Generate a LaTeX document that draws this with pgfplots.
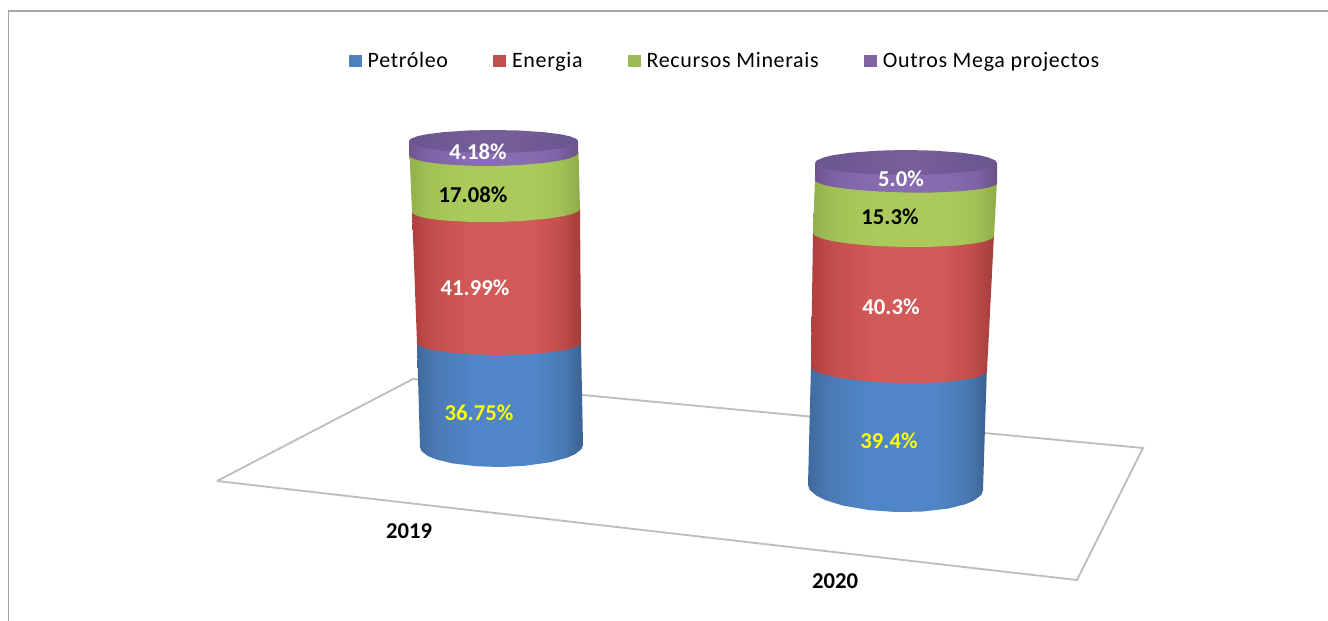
\documentclass[border=0pt]{standalone}
\usepackage{fontspec}
\setmainfont{Carlito}
\newfontfamily\legfont[LetterSpace=3]{Carlito}
\usepackage{pgfplots}
\pgfplotsset{compat=1.18}
\definecolor{frameg}{HTML}{A6A6A6}
\definecolor{floorg}{HTML}{BEBEBE}
\definecolor{blueL}{HTML}{4F81BD}
\definecolor{redL}{HTML}{C0504D}
\definecolor{greenL}{HTML}{9BBB59}
\definecolor{purpL}{HTML}{8064A2}
\definecolor{labyel}{HTML}{FFFF00}
\definecolor{blueE}{HTML}{3F6A9F}
\definecolor{blueS}{HTML}{4A7AB4}
\definecolor{blueM}{HTML}{5086C8}
\definecolor{blueD}{HTML}{3A6290}
\definecolor{redE}{HTML}{AE403E}
\definecolor{redS}{HTML}{C24E4C}
\definecolor{redM}{HTML}{D25A58}
\definecolor{redD}{HTML}{A23C3A}
\definecolor{greenE}{HTML}{93B04C}
\definecolor{greenS}{HTML}{A2C256}
\definecolor{greenM}{HTML}{AACB5C}
\definecolor{greenD}{HTML}{8FAB4A}
\definecolor{purpE}{HTML}{6F5590}
\definecolor{purpS}{HTML}{7E64A6}
\definecolor{purpM}{HTML}{886CB0}
\definecolor{purpD}{HTML}{6A5288}
\definecolor{lidE}{HTML}{6A5590}
\definecolor{lidM}{HTML}{775F9A}
% path box maps onto 25bp..75bp of a shading
\pgfdeclarehorizontalshading{cylB}{100bp}{color(0bp)=(blueE); color(25bp)=(blueE); color(31bp)=(blueS); color(42bp)=(blueM); color(60bp)=(blueM); color(69bp)=(blueS); color(75bp)=(blueD); color(100bp)=(blueD)}
\pgfdeclarehorizontalshading{cylR}{100bp}{color(0bp)=(redE); color(25bp)=(redE); color(31bp)=(redS); color(42bp)=(redM); color(60bp)=(redM); color(69bp)=(redS); color(75bp)=(redD); color(100bp)=(redD)}
\pgfdeclarehorizontalshading{cylG}{100bp}{color(0bp)=(greenE); color(25bp)=(greenE); color(31bp)=(greenS); color(42bp)=(greenM); color(60bp)=(greenM); color(69bp)=(greenS); color(75bp)=(greenD); color(100bp)=(greenD)}
\pgfdeclarehorizontalshading{cylP}{100bp}{color(0bp)=(purpE); color(25bp)=(purpE); color(31bp)=(purpS); color(42bp)=(purpM); color(60bp)=(purpM); color(69bp)=(purpS); color(75bp)=(purpD); color(100bp)=(purpD)}
\tikzset{
  cylblue/.style={draw=none, shade, shading=cylB},
  cylred/.style={draw=none, shade, shading=cylR},
  cylgreen/.style={draw=none, shade, shading=cylG},
  cylpurp/.style={draw=none, shade, shading=cylP},
  cyllid/.style={draw=none, left color=lidE, right color=lidE, middle color=lidM},
  val/.style={font=\bfseries\fontsize{17}{19}\selectfont, inner sep=0pt},
  swatch/.style={draw=none, fill=#1},
}
\pgfplotsset{
  legsq/.style={legend image code/.code={\path[##1] (0pt,-4.5pt) rectangle (9.75pt,4.5pt);}},
}
\begin{document}
\begin{tikzpicture}
\path[use as bounding box] (0,0) rectangle (996pt,465.75pt);
\begin{axis}[
    at={(0,0)}, anchor=south west,
    scale only axis, width=996pt, height=465.75pt,
    xmin=0, xmax=1328, ymin=0, ymax=621, y dir=reverse,
    hide axis,
    legend columns=4,
    legend cell align=left,
    legend style={
        at={(axis cs:349,61)}, anchor=west, draw=none, fill=none,
        inner sep=0pt, outer sep=0pt,
        font=\legfont\fontsize{16.5}{19}\selectfont,
        /tikz/every even column/.append style={column sep=32pt},
        /tikz/every odd column/.append style={column sep=2.3pt},
    },
]
% legend swatches
\addlegendimage{legsq, swatch=blueL}
\addlegendentry{Petróleo}
\addlegendimage{legsq, swatch=redL}
\addlegendentry{Energia}
\addlegendimage{legsq, swatch=greenL}
\addlegendentry{Recursos Minerais}
\addlegendimage{legsq, swatch=purpL}
\addlegendentry{Outros Mega projectos}

% chart frame, cropped at right and bottom
\addplot[frameg, line width=1.1pt, forget plot] coordinates {(8.5,621) (8.5,11) (1328,11)};
% floor
\addplot[floorg, line width=1.4pt, forget plot] coordinates {(217,481) (413,379) (1143,448) (1077,580) (217,481)};

% 2019 column, bottom to top
\addplot[cylblue, forget plot] coordinates {(417,342) (420,447) (421.6,451.2) (428,456.1) (436.3,459.4) (452.6,463.4) (477,466.3) (501.5,467) (526,465.7) (550.4,462.2) (566.7,457.8) (574.9,454.3) (581.4,449.2) (583,445) (581,342)} -- cycle;
\addplot[cylred, forget plot] coordinates {(412,210) (417,343) (418.6,345.4) (425.2,348.2) (433.4,350.2) (449.8,352.6) (474.4,354.4) (499,355) (523.6,354.4) (548.2,352.6) (564.6,350.2) (572.8,348.2) (579.4,345.4) (581,343) (580,208)} -- cycle;
\addplot[cylgreen, forget plot] coordinates {(409.5,153) (412,212) (413.7,214.3) (420.4,216.9) (428.8,218.6) (445.6,220.6) (470.8,221.9) (496,222) (521.2,221) (546.4,218.8) (563.2,216.2) (571.6,214.2) (578.3,211.3) (580,209) (578.5,152)} -- cycle;
\addplot[cylpurp, forget plot] coordinates {(409,141) (409,155) (410.7,157.4) (417.5,160.1) (425.9,162) (442.8,164.2) (468.2,165.7) (493.5,166) (518.8,165.1) (544.2,163) (561.1,160.4) (569.5,158.3) (576.3,155.4) (578,153) (578,141)} -- cycle;
\addplot[cyllid, forget plot] coordinates {(409,141) (410.7,138.8) (417.5,136.2) (425.9,134.4) (442.8,132.2) (468.2,130.5) (493.5,130) (518.8,130.5) (544.2,132.2) (561.1,134.4) (569.5,136.2) (576.3,138.8) (578,141) (576.3,143.4) (569.5,146.2) (561.1,148.2) (544.2,150.6) (518.8,152.4) (493.5,153) (468.2,152.4) (442.8,150.6) (425.9,148.2) (417.5,146.2) (410.7,143.4)} -- cycle;

% 2020 column, bottom to top
\addplot[cylblue, forget plot] coordinates {(811,365) (808,485) (809.8,490) (816.8,495.9) (825.5,500.2) (843,505.6) (869.2,510.1) (895.5,512) (921.8,511.6) (948,508.6) (965.5,504.2) (974.2,500.4) (981.3,494.9) (983,490) (987,365)} -- cycle;
\addplot[cylred, forget plot] coordinates {(813,231) (811,367) (812.8,369.8) (819.8,373.3) (828.6,375.8) (846.2,379) (872.6,381.8) (899,383) (925.4,383) (951.8,381.4) (969.4,379) (978.2,376.9) (985.2,373.8) (987,371) (994,234)} -- cycle;
\addplot[cylgreen, forget plot] coordinates {(815,178) (813,233) (814.8,235.5) (822,238.6) (831.1,240.8) (849.2,243.6) (876.4,246) (903.5,247) (930.6,246.9) (957.8,245.4) (975.9,243.2) (985,241.4) (992.2,238.5) (994,236) (997,181)} -- cycle;
\addplot[cylpurp, forget plot] coordinates {(815,163) (815,180) (816.8,182.2) (824.1,185) (833.2,186.9) (851.4,189.4) (878.7,191.5) (906,192.5) (933.3,192.5) (960.6,191.2) (978.8,189.3) (987.9,187.7) (995.2,185.2) (997,183) (997,163)} -- cycle;
\addplot[cyllid, forget plot] coordinates {(815,163) (816.8,160.4) (824.1,157.3) (833.2,155.2) (851.4,152.6) (878.7,150.6) (906,150) (933.3,150.6) (960.6,152.6) (978.8,155.2) (987.9,157.3) (995.2,160.4) (997,163) (995.2,165.4) (987.9,168.2) (978.8,170.2) (960.6,172.6) (933.3,174.4) (906,175) (878.7,174.4) (851.4,172.6) (833.2,170.2) (824.1,168.2) (816.8,165.4)} -- cycle;

% value labels
\node[val, white] at (axis cs:478,152) {4.18\%};
\node[val, black] at (axis cs:473,195) {17.08\%};
\node[val, white] at (axis cs:475,288) {41.99\%};
\node[val, labyel] at (axis cs:479,413) {36.75\%};
\node[val, white] at (axis cs:901,179) {5.0\%};
\node[val, black] at (axis cs:890,217) {15.3\%};
\node[val, white] at (axis cs:891,307) {40.3\%};
\node[val, labyel] at (axis cs:889,441) {39.4\%};
% categories
\node[val, black] at (axis cs:409,531) {2019};
\node[val, black] at (axis cs:835,581) {2020};
\end{axis}
\end{tikzpicture}
\end{document}
